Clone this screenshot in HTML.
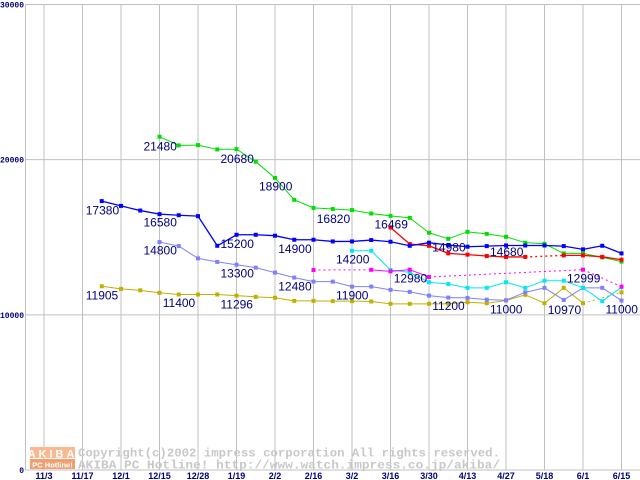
<!DOCTYPE html>
<html><head><meta charset="utf-8"><style>
body{margin:0;background:#fff;width:640px;height:480px;overflow:hidden}
svg{display:block}
</style></head><body>
<svg id="c" width="640" height="480" xmlns="http://www.w3.org/2000/svg"></svg>
<script>
const categories=["11/3","","11/17","","12/1","","12/15","","12/28","","1/19","","2/2","","2/16","","3/2","","3/16","","3/30","","4/13","","4/27","","5/18","","6/1","","6/15"];
const tickLabels=["11/3","11/17","12/1","12/15","12/28","1/19","2/2","2/16","3/2","3/16","3/30","4/13","4/27","5/18","6/1","6/15"];
const yTicks=[0,10000,20000,30000];
const greenVals=[null,null,null,null,null,null,21480,20920,20940,20660,20680,19870,18820,17410,16890,16820,16750,16530,16380,16250,15290,14900,15350,15220,15030,14650,14580,13960,13960,13700,13430];
const blueVals=[null,null,null,17330,17020,16720,16490,16420,16360,14450,15160,15160,15100,14840,14840,14730,14730,14820,14710,14450,14650,14500,14390,14430,14470,14470,14470,14430,14220,14450,13960];
const redVals=[null,null,null,null,null,null,null,null,null,null,null,null,null,null,null,null,null,null,15630,14560,14450,13960,13880,13790,13730,13730,null,13830,13830,13740,13550];
const magentaVals=[null,null,null,null,null,null,null,null,null,null,null,null,null,null,12890,null,null,12900,12800,12910,12440,null,null,null,null,null,null,null,12910,null,11820];
const cyanVals=[null,null,null,null,null,null,null,null,null,null,null,null,null,null,null,null,14130,14130,12890,12740,12100,11990,11740,11740,12100,11740,12200,12200,11740,10880,11780];
const lavenderVals=[null,null,null,null,null,null,14690,14430,13640,13410,13230,13040,12720,12400,12140,12140,11820,11820,11610,11480,11240,11110,11090,10980,10940,11450,11740,10960,11740,11740,10920];
const oliveVals=[null,null,null,11840,11670,11580,11420,11310,11310,11310,11240,11160,11100,10900,10900,10880,10880,10860,10710,10710,10710,10710,10810,10750,10920,11290,10750,11740,10750,null,11450];
const labelTexts=["21480","20680","18900","17380","16580","15200","14800","14900","13300","12480","11905","11400","11296","16820","16469","14980","14680","14200","12980","12999","11900","11200","11000","10970","11000"];
const labelVals=[21480,20680,18900,17380,16580,15200,14800,14900,13300,12480,11905,11400,11296,16820,16469,14980,14680,14200,12980,12999,11900,11200,11000,10970,11000];
const labelIdx=[6,10,12,3,6,10,6,13,10,13,3,7,10,15,18,21,24,16,19,28,16,21,24,27,30];

const X0=44, DX=19.25, Y0=470, KY=465.5/30000;
const xs=i=>X0+i*DX;
const ys=v=>Y0-v*KY;
const svg=document.getElementById('c');
const NS='http://www.w3.org/2000/svg';
function mk(t,a){const e=document.createElementNS(NS,t);for(const k in a)e.setAttribute(k,a[k]);svg.appendChild(e);return e;}

for(let k=0;k<tickLabels.length;k++){
  const g=mk('line',{x1:xs(k*2),x2:xs(k*2),y1:4.5,y2:Y0,stroke:'#c0c0c0','stroke-width':1});
  
  
  const t=mk('text',{x:xs(k*2),y:479,'text-anchor':'middle','font-family':'Liberation Sans, sans-serif','font-size':9,'font-weight':'bold',fill:'#000080'});
  t.textContent=tickLabels[k];
  
  
}
yTicks.forEach(v=>{
  const g=mk('line',{x1:25.5,x2:640,y1:ys(v),y2:ys(v),stroke:'#c0c0c0','stroke-width':1});
  
  
  const t=mk('text',{x:24,y:ys(v)+3,'text-anchor':'end','font-family':'Liberation Mono, monospace','font-size':8,'font-weight':'bold',fill:'#000080'});
  t.textContent=String(v);
  
  
});
const ax=mk('line',{x1:25.5,x2:25.5,y1:4.5,y2:Y0,stroke:'#c0c0c0'});



const lg=mk('rect',{x:30,y:447,width:45,height:11,fill:'#f8b890'});


const lg2=mk('rect',{x:30,y:459,width:45,height:10,fill:'#f0a070'});


[['AKIBA',52.5,457.5,11,3],['PC Hotline!',52.5,467.5,7.5,0]].forEach(a=>{
  const t=mk('text',{x:a[1],y:a[2],'text-anchor':'middle','font-family':'Liberation Sans, sans-serif','font-size':a[3],'font-weight':'bold',fill:'#fff','letter-spacing':a[4]});
  t.textContent=a[0];
  
  
});
[['Copyright(c)2002 impress corporation All rights reserved.',456.5],['AKIBA PC Hotline!  http://www.watch.impress.co.jp/akiba/',468.5]].forEach(a=>{
  const t=mk('text',{x:78,y:a[1],'font-family':'Liberation Mono, monospace','font-size':12.2,'font-weight':'bold',fill:'#c8c8c8',textLength:422,lengthAdjust:'spacingAndGlyphs'});
  t.textContent=a[0];
  
  
});

function series(vals,color,name,w){
  let prev=-1;
  for(let i=0;i<vals.length;i++){
    if(vals[i]==null)continue;
    if(prev>=0){
      const gap=i-prev>1;
      const l=mk('line',{x1:xs(prev),y1:ys(vals[prev]),x2:xs(i),y2:ys(vals[i]),stroke:color,'stroke-width':w});
      if(gap)l.setAttribute('stroke-dasharray','2,3');
      
      
    }
    prev=i;
  }
  for(let i=0;i<vals.length;i++){
    if(vals[i]==null)continue;
    const r=mk('rect',{x:xs(i)-2,y:ys(vals[i])-2,width:4,height:4,fill:color});
    
    
  }
}
series(oliveVals,'#c0b000','olive-series',1);
series(lavenderVals,'#8080ff','lavender-series',1);
series(cyanVals,'#00e8f0','cyan-series',1);
series(magentaVals,'#ff00ff','magenta-series',1);
series(greenVals,'#00e000','green-series',1);
series(redVals,'#ff0000','red-series',1.3);
series(blueVals,'#0000ff','blue-series',1.3);

for(let k=0;k<labelTexts.length;k++){
  const t=mk('text',{x:xs(labelIdx[k])-16,y:ys(labelVals[k])+14,'text-anchor':'start','font-family':'Liberation Sans, sans-serif','font-size':12,fill:'#000080'});
  t.textContent=labelTexts[k];
  
  
}
</script>
</body></html>
